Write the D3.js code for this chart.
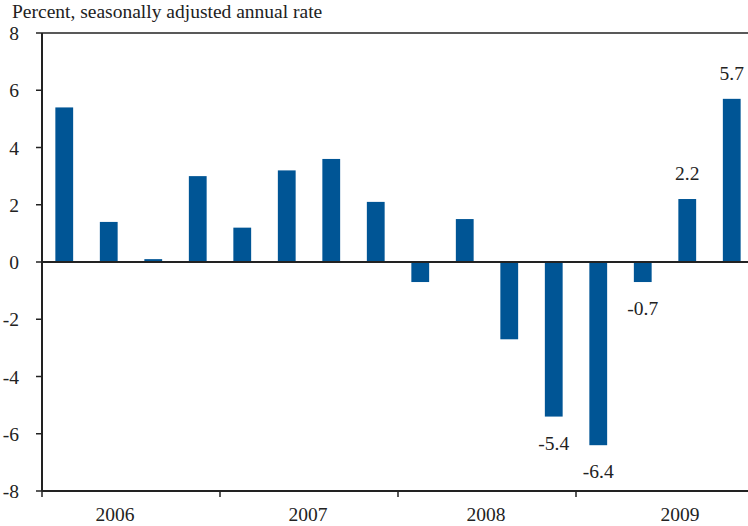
<!DOCTYPE html>
<html>
<head>
<meta charset="utf-8">
<script src="https://cdn.jsdelivr.net/npm/d3@7"></script>
<style>
  body { margin: 0; background: #fff; }
  text { font-family: "Liberation Serif", "DejaVu Serif", serif; fill: #222; }
</style>
</head>
<body>
<script>
// quarterly data, 2006 Q1 .. 2009 Q4
const years = ['2006', '2007', '2008', '2009']
const quarters = ['Q1', 'Q2', 'Q3', 'Q4']
const values = [5.4, 1.4, 0.1, 3.0, 1.2, 3.2, 3.6, 2.1, -0.7, 1.5, -2.7, -5.4, -6.4, -0.7, 2.2, 5.7]
// bars that carry a value label
const labelled = [11, 12, 13, 14, 15]
const yTicks = [-8, -6, -4, -2, 0, 2, 4, 6, 8]

const ids = years.flatMap(y => quarters.map(q => y + q))

const width = 748
const height = 526
const margin = {top: 33, left: 42, bottom: 35}
const plotRight = margin.left + 712
const fs = 19.5

const svg = d3.select('body').append('svg').attr('width', width).attr('height', height)

const x = d3.scaleBand().domain(ids).range([margin.left, plotRight]).paddingInner(0.6).paddingOuter(0.3)
const xYear = d3.scaleBand().domain(years).range([margin.left, plotRight])
const y = d3.scaleLinear().domain([-8, 8]).range([height - margin.bottom, margin.top])

// hyphen-minus, like the original
const fmt = v => v.toFixed(1)

// title
svg.append('text')
   .attr('x', 12).attr('y', 18)
   .attr('font-size', fs)
   .text('Percent, seasonally adjusted annual rate')

// top frame line
svg.append('line')
   .attr('x1', margin.left).attr('x2', width)
   .attr('y1', y(8)).attr('y2', y(8))
   .attr('stroke', '#222').attr('stroke-width', 1.5)

// bars
svg.selectAll('.bar')
   .data(values)
   .enter()
   .append('rect')
   .attr('fill', '#005595')
   .attr('x', (d, i) => x(ids[i]))
   .attr('width', x.bandwidth())
   .attr('y', d => y(Math.max(0, d)))
   .attr('height', d => Math.abs(y(d) - y(0)))

// value labels
svg.selectAll('.lab')
   .data(labelled)
   .enter()
   .append('text')
   .attr('font-size', fs)
   .attr('text-anchor', 'middle')
   .attr('x', i => x(ids[i]) + x.bandwidth() / 2)
   .attr('y', i => values[i] >= 0 ? y(values[i]) - 19 : y(values[i]) + 33)
   .text(i => fmt(values[i]))

// y axis
const yAxis = svg.append('g')
yAxis.selectAll('line')
     .data(yTicks)
     .enter()
     .append('line')
     .attr('x1', margin.left - 6).attr('x2', margin.left)
     .attr('y1', d => y(d)).attr('y2', d => y(d))
     .attr('stroke', '#222').attr('stroke-width', 1.5)
yAxis.selectAll('text')
     .data(yTicks)
     .enter()
     .append('text')
     .attr('font-size', fs)
     .attr('text-anchor', 'end')
     .attr('x', 19)
     .attr('y', d => y(d) + 7)
     .text(d => String(d))

svg.append('line')
   .attr('x1', margin.left).attr('x2', margin.left)
   .attr('y1', y(8)).attr('y2', y(-8))
   .attr('stroke', '#222').attr('stroke-width', 2)

// zero line
svg.append('line')
   .attr('x1', margin.left).attr('x2', width)
   .attr('y1', y(0)).attr('y2', y(0))
   .attr('stroke', '#222').attr('stroke-width', 2)

// x axis
svg.append('line')
   .attr('x1', margin.left).attr('x2', width)
   .attr('y1', y(-8)).attr('y2', y(-8))
   .attr('stroke', '#222').attr('stroke-width', 2)

svg.selectAll('.ytick')
   .data(years)
   .enter()
   .append('line')
   .attr('x1', d => xYear(d)).attr('x2', d => xYear(d))
   .attr('y1', y(-8)).attr('y2', y(-8) + 6)
   .attr('stroke', '#222').attr('stroke-width', 1.5)

const yearShift = [-16, -1, -1, 15]
svg.selectAll('.year')
   .data(years)
   .enter()
   .append('text')
   .attr('font-size', fs)
   .attr('text-anchor', 'middle')
   .attr('x', (d, i) => xYear(d) + xYear.bandwidth() / 2 + yearShift[i])
   .attr('y', y(-8) + 30)
   .text(d => d)
</script>
</body>
</html>
